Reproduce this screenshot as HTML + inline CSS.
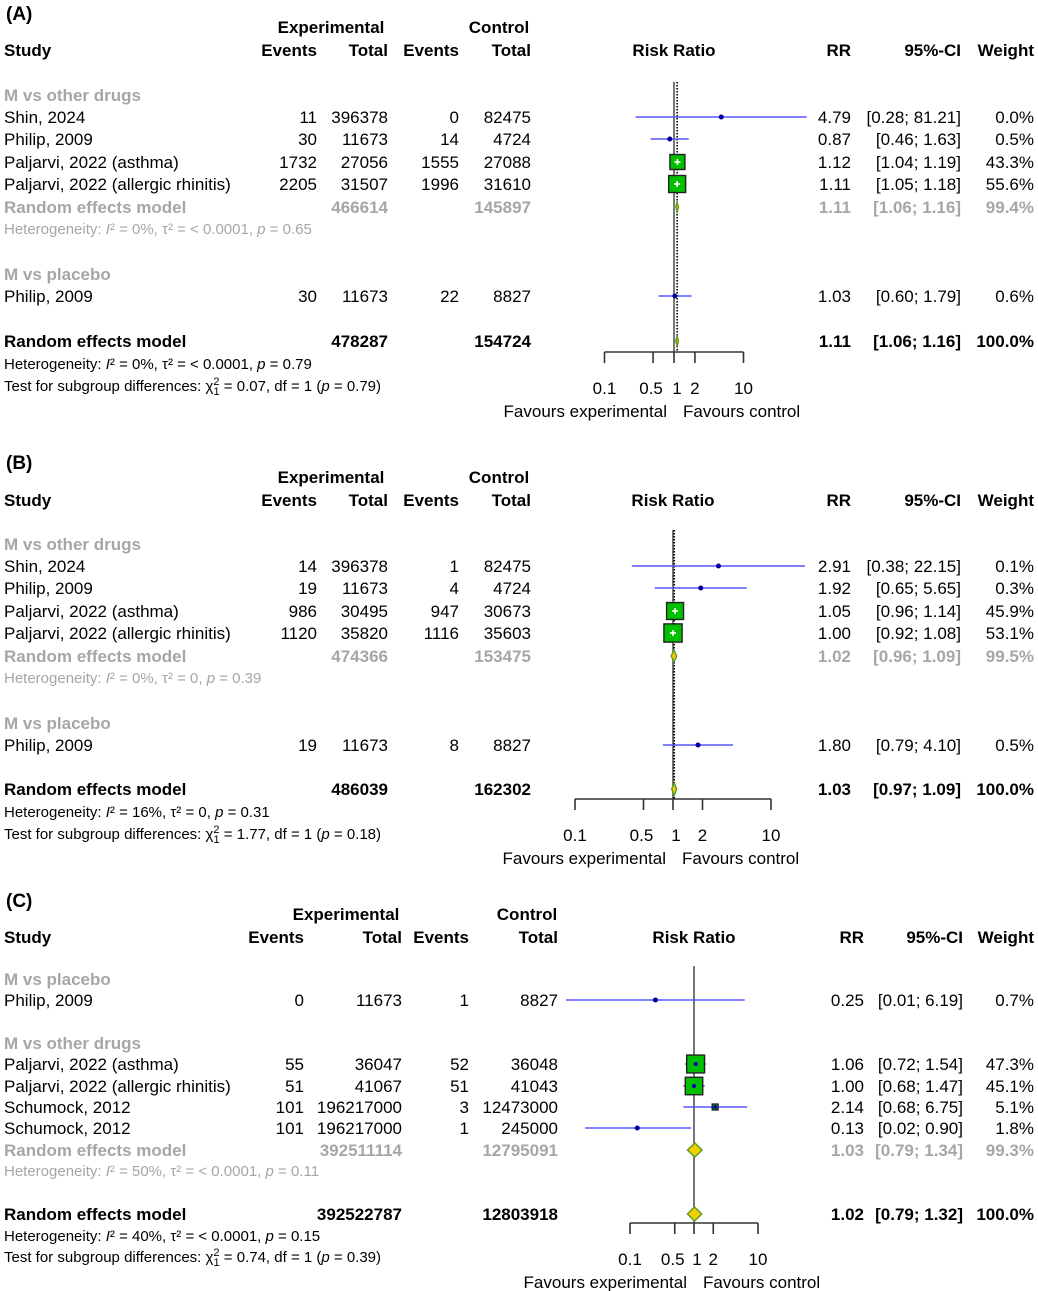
<!DOCTYPE html>
<html><head><meta charset="utf-8">
<style>
html,body{margin:0;padding:0;background:#fff;}
svg{display:block;font-family:"Liberation Sans",Arial,sans-serif;}
</style></head>
<body>
<svg id="c" width="1038" height="1291" viewBox="0 0 1038 1291" xmlns="http://www.w3.org/2000/svg"></svg>
<script>
// ---------- Panel A data ----------
const A_names = ["Shin, 2024","Philip, 2009","Paljarvi, 2022 (asthma)","Paljarvi, 2022 (allergic rhinitis)","Philip, 2009"];
const A_eE = ["11","30","1732","2205","30"];
const A_eT = ["396378","11673","27056","31507","11673"];
const A_cE = ["0","14","1555","1996","22"];
const A_cT = ["82475","4724","27088","31610","8827"];
const A_rr = [4.79,0.87,1.12,1.11,1.03];
const A_lo = [0.28,0.46,1.04,1.05,0.60];
const A_hi = [81.21,1.63,1.19,1.18,1.79];
const A_w = [0.0,0.5,43.3,55.6,0.6];
const A_pool_rr = [1.11,1.11];
const A_pool_lo = [1.06,1.06];
const A_pool_hi = [1.16,1.16];
// ---------- Panel B data ----------
const B_names = ["Shin, 2024","Philip, 2009","Paljarvi, 2022 (asthma)","Paljarvi, 2022 (allergic rhinitis)","Philip, 2009"];
const B_eE = ["14","19","986","1120","19"];
const B_eT = ["396378","11673","30495","35820","11673"];
const B_cE = ["1","4","947","1116","8"];
const B_cT = ["82475","4724","30673","35603","8827"];
const B_rr = [2.91,1.92,1.05,1.00,1.80];
const B_lo = [0.38,0.65,0.96,0.92,0.79];
const B_hi = [22.15,5.65,1.14,1.08,4.10];
const B_w = [0.1,0.3,45.9,53.1,0.5];
const B_pool_rr = [1.02,1.03];
const B_pool_lo = [0.96,0.97];
const B_pool_hi = [1.09,1.09];
// ---------- Panel C data ----------
const C_names = ["Philip, 2009","Paljarvi, 2022 (asthma)","Paljarvi, 2022 (allergic rhinitis)","Schumock, 2012","Schumock, 2012"];
const C_eE = ["0","55","51","101","101"];
const C_eT = ["11673","36047","41067","196217000","196217000"];
const C_cE = ["1","52","51","3","1"];
const C_cT = ["8827","36048","41043","12473000","245000"];
const C_rr = [0.25,1.06,1.00,2.14,0.13];
const C_lo = [0.01,0.72,0.68,0.68,0.02];
const C_hi = [6.19,1.54,1.47,6.75,0.90];
const C_w = [0.7,47.3,45.1,5.1,1.8];
const C_pool_rr = [1.03,1.02];
const C_pool_lo = [0.79,0.79];
const C_pool_hi = [1.34,1.32];
const tickVals = [0.1,0.5,1,2,10];
const tickLabels = ["0.1","0.5","1","2","10"];

const NS="http://www.w3.org/2000/svg";
const svg=document.getElementById('c');
function el(tag,attrs,parent){const e=document.createElementNS(NS,tag);for(const k in attrs)e.setAttribute(k,attrs[k]);(parent||svg).appendChild(e);return e;}
function txt(x,y,s,o){o=o||{};const t=el('text',{x:x,y:y,'font-size':o.fs||17,fill:o.fill||'#000','text-anchor':o.anchor||'start','font-weight':o.bold?'bold':'normal'});t.textContent=s;


return t;}
function het(x,y,s,o){o=o||{};const t=el('text',{x:x,y:y,'font-size':o.fs||15,fill:o.fill||'#000'});


for(const p of s){const ts=el('tspan',p.a||{},t);ts.textContent=p.t;}return t;}
const f=v=>v.toFixed(2);
const fw=v=>v.toFixed(1)+'%';

function panel(P){
  const g=el('g',{});
  
  
  const sx=v=>P.x1+Math.log10(v)*P.dec;
  const C=P.col;
  txt(6,P.yTitle,'('+P.id+')',{bold:true,fs:19,name:'panel-title'});
  txt(C.expC,P.yH1,'Experimental',{bold:true,anchor:'middle',name:'experimental-header'});
  txt(C.ctlC,P.yH1,'Control',{bold:true,anchor:'middle',name:'control-header'});
  txt(4,P.yH2,'Study',{bold:true,name:'study-header'});
  txt(C.eE,P.yH2,'Events',{bold:true,anchor:'end',name:'exp-events-header'});
  txt(C.eT,P.yH2,'Total',{bold:true,anchor:'end',name:'exp-total-header'});
  txt(C.cE,P.yH2,'Events',{bold:true,anchor:'end',name:'ctl-events-header'});
  txt(C.cT,P.yH2,'Total',{bold:true,anchor:'end',name:'ctl-total-header'});
  txt(P.x1,P.yH2,'Risk Ratio',{bold:true,anchor:'middle',name:'risk-ratio-header'});
  txt(C.rr,P.yH2,'RR',{bold:true,anchor:'end',name:'rr-header'});
  txt(C.ci,P.yH2,'95%-CI',{bold:true,anchor:'end',name:'ci-header'});
  txt(C.w,P.yH2,'Weight',{bold:true,anchor:'end',name:'weight-header'});
  el('line',{x1:P.x1,x2:P.x1,y1:P.lineTop,y2:P.axisY,stroke:'#555','stroke-width':1.6});
  if(P.dotted){const xp=sx(P.pool_rr[1]);el('line',{x1:xp,x2:xp,y1:P.lineTop,y2:P.axisY,stroke:'#000','stroke-width':1.6,'stroke-dasharray':'1.5,1.5'});}
  const gray='#a6a6a6';
  P.rows.forEach(r=>{
    const yb=r.y+6;
    if(r.t==='sub'){txt(4,yb,r.s,{bold:true,fill:gray,name:'subgroup-label'});}
    if(r.t==='study'){
      const i=r.i;
      txt(4,yb,P.names[i],{name:'study-name'});
      txt(C.eE,yb,P.eE[i],{anchor:'end',name:'exp-events'});
      txt(C.eT,yb,P.eT[i],{anchor:'end',name:'exp-total'});
      txt(C.cE,yb,P.cE[i],{anchor:'end',name:'ctl-events'});
      txt(C.cT,yb,P.cT[i],{anchor:'end',name:'ctl-total'});
      txt(C.rr,yb,f(P.rr[i]),{anchor:'end',name:'rr-value'});
      txt(C.ci,yb,'['+f(P.lo[i])+'; '+f(P.hi[i])+']',{anchor:'end',name:'ci-value'});
      txt(C.w,yb,fw(P.w[i]),{anchor:'end',name:'weight-value'});
      const l=el('line',{x1:sx(P.lo[i]),x2:sx(P.hi[i]),y1:r.y,y2:r.y,stroke:'#5555ff','stroke-width':1.6});
      
      
      const s=P.k*Math.sqrt(P.w[i]);const cx=sx(P.rr[i]);
      if(s>4){const q=el('rect',{x:cx-s/2,y:r.y-s/2,width:s,height:s,fill:'#00c000',stroke:'#222','stroke-width':1.4});
        
        
        if(P.cross){el('line',{x1:cx-3,x2:cx+3,y1:r.y,y2:r.y,stroke:'#fff','stroke-width':1.6});el('line',{x1:cx,x2:cx,y1:r.y-3,y2:r.y+3,stroke:'#fff','stroke-width':1.6});}
        else el('circle',{cx:cx,cy:r.y,r:2,fill:'#0000aa'});
      } else {const d=el('circle',{cx:cx,cy:r.y,r:2.5,fill:'#000099'});
        
        }
    }
    if(r.t==='pool'){
      const j=r.j, c=r.sub?gray:'#000';
      txt(4,yb,'Random effects model',{bold:true,fill:c,name:'random-effects-label'});
      txt(C.eT,yb,r.eT,{bold:true,anchor:'end',fill:c,name:'exp-total-sum'});
      txt(C.cT,yb,r.cT,{bold:true,anchor:'end',fill:c,name:'ctl-total-sum'});
      txt(C.rr,yb,f(P.pool_rr[j]),{bold:true,anchor:'end',fill:c,name:'pooled-rr'});
      txt(C.ci,yb,'['+f(P.pool_lo[j])+'; '+f(P.pool_hi[j])+']',{bold:true,anchor:'end',fill:c,name:'pooled-ci'});
      txt(C.w,yb,r.w,{bold:true,anchor:'end',fill:c,name:'pooled-weight'});
      const a=sx(P.pool_lo[j]),b=sx(P.pool_hi[j]),m=sx(P.pool_rr[j]),h=P.dh;
      const d=el('polygon',{points:`${a},${r.y} ${m},${r.y-h} ${b},${r.y} ${m},${r.y+h}`,fill:'#f2d000',stroke:'#5a9a20','stroke-width':1.4});
      
      
    }
    if(r.t==='het'){het(4,yb-1,r.parts,{fill:r.sub?gray:'#000'});}
  });
  const ax=el('line',{x1:sx(0.1),x2:sx(10),y1:P.axisY,y2:P.axisY,stroke:'#333','stroke-width':1.6});
  
  
  tickVals.forEach((v,i)=>{el('line',{x1:sx(v),x2:sx(v),y1:P.axisY,y2:P.axisY+11,stroke:'#333','stroke-width':1.6});
    txt(sx(v)+(v===0.5?-2:(v===1?3:0)),P.axisY+42,tickLabels[i],{anchor:'middle',name:'tick-label'});});
  txt(P.x1-7,P.axisY+65,'Favours experimental',{anchor:'end',name:'favours-experimental'});
  txt(P.x1+9,P.axisY+65,'Favours control',{anchor:'start',name:'favours-control'});
}
const I=[{t:'Heterogeneity: '},{t:'I',a:{'font-style':'italic'}},{t:'² = '}];
function H(i2,tau,p){return [...I,{t:i2+', τ² = '+tau+', '},{t:'p',a:{'font-style':'italic'}},{t:' = '+p}];}
function T(chi,p){return [{t:'Test for subgroup differences: χ'},{t:'2',a:{'font-size':11,dy:-6}},{t:'1',a:{'font-size':11,dy:10,dx:-6}},{t:' = '+chi+', df = 1 (',a:{dy:-4}},{t:'p',a:{'font-style':'italic'}},{t:' = '+p+')'}];}

panel({id:'A',x1:674,dec:69.5,k:2.28,cross:true,dotted:true,dh:5,yTitle:20,yH1:33,yH2:56,lineTop:82,axisY:352,
 names:A_names,eE:A_eE,eT:A_eT,cE:A_cE,cT:A_cT,rr:A_rr,lo:A_lo,hi:A_hi,w:A_w,pool_rr:A_pool_rr,pool_lo:A_pool_lo,pool_hi:A_pool_hi,
 col:{expC:331,ctlC:499,eE:317,eT:388,cE:459,cT:531,rr:851,ci:961,w:1034},
 rows:[{t:'sub',y:95,s:'M vs other drugs'},{t:'study',i:0,y:117},{t:'study',i:1,y:139},{t:'study',i:2,y:162},{t:'study',i:3,y:184},
 {t:'pool',j:0,y:207,sub:true,eT:'466614',cT:'145897',w:'99.4%'},{t:'het',y:229,sub:true,parts:H('0%','< 0.0001','0.65')},
 {t:'sub',y:274,s:'M vs placebo'},{t:'study',i:4,y:296},
 {t:'pool',j:1,y:341,eT:'478287',cT:'154724',w:'100.0%'},{t:'het',y:364,parts:H('0%','< 0.0001','0.79')},{t:'het',y:386,parts:T('0.07','0.79')}]});

panel({id:'B',x1:673,dec:98,k:2.5,cross:true,dotted:true,dh:6,yTitle:469,yH1:483,yH2:506,lineTop:530,axisY:799,
 names:B_names,eE:B_eE,eT:B_eT,cE:B_cE,cT:B_cT,rr:B_rr,lo:B_lo,hi:B_hi,w:B_w,pool_rr:B_pool_rr,pool_lo:B_pool_lo,pool_hi:B_pool_hi,
 col:{expC:331,ctlC:499,eE:317,eT:388,cE:459,cT:531,rr:851,ci:961,w:1034},
 rows:[{t:'sub',y:544,s:'M vs other drugs'},{t:'study',i:0,y:566},{t:'study',i:1,y:588},{t:'study',i:2,y:611},{t:'study',i:3,y:633},
 {t:'pool',j:0,y:656,sub:true,eT:'474366',cT:'153475',w:'99.5%'},{t:'het',y:678,sub:true,parts:H('0%','0','0.39')},
 {t:'sub',y:723,s:'M vs placebo'},{t:'study',i:4,y:745},
 {t:'pool',j:1,y:789,eT:'486039',cT:'162302',w:'100.0%'},{t:'het',y:812,parts:H('16%','0','0.31')},{t:'het',y:834,parts:T('1.77','0.18')}]});

panel({id:'C',x1:694,dec:64,k:2.6,cross:false,dotted:false,dh:7,yTitle:907,yH1:920,yH2:943,lineTop:966,axisY:1223,
 names:C_names,eE:C_eE,eT:C_eT,cE:C_cE,cT:C_cT,rr:C_rr,lo:C_lo,hi:C_hi,w:C_w,pool_rr:C_pool_rr,pool_lo:C_pool_lo,pool_hi:C_pool_hi,
 col:{expC:346,ctlC:527,eE:304,eT:402,cE:469,cT:558,rr:864,ci:963,w:1034},
 rows:[{t:'sub',y:979,s:'M vs placebo'},{t:'study',i:0,y:1000},
 {t:'sub',y:1043,s:'M vs other drugs'},{t:'study',i:1,y:1064},{t:'study',i:2,y:1086},{t:'study',i:3,y:1107},{t:'study',i:4,y:1128},
 {t:'pool',j:0,y:1150,sub:true,eT:'392511114',cT:'12795091',w:'99.3%'},{t:'het',y:1171,sub:true,parts:H('50%','< 0.0001','0.11')},
 {t:'pool',j:1,y:1214,eT:'392522787',cT:'12803918',w:'100.0%'},{t:'het',y:1236,parts:H('40%','< 0.0001','0.15')},{t:'het',y:1257,parts:T('0.74','0.39')}]});
</script>
</body></html>
